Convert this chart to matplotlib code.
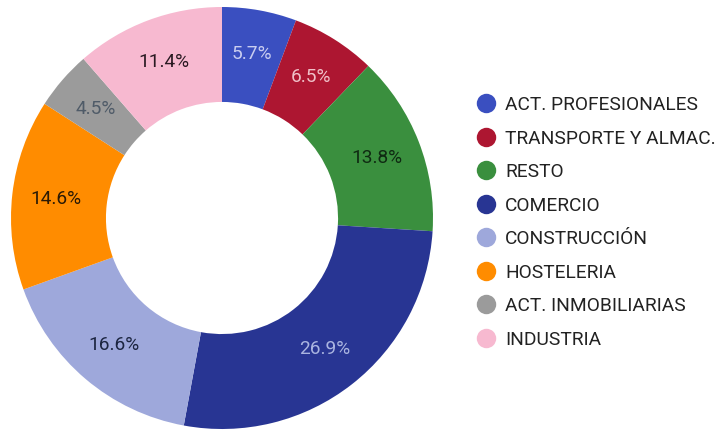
import matplotlib
matplotlib.use("Agg")
import matplotlib.pyplot as plt
from matplotlib.lines import Line2D

plt.rcParams['font.family'] = ['Roboto', 'DejaVu Sans']

categories = ["ACT. PROFESIONALES", "TRANSPORTE Y ALMAC.", "RESTO", "COMERCIO",
              "CONSTRUCCIÓN", "HOSTELERIA", "ACT. INMOBILIARIAS", "INDUSTRIA"]
values = [5.7, 6.5, 13.8, 26.9, 16.6, 14.6, 4.5, 11.4]
colors = ["#3a4fc0", "#ad1631", "#3a8f3e", "#283593",
          "#9ea8db", "#ff8c00", "#9b9b9b", "#f7b9d0"]
label_colors = ["#c9cdf0", "#f0c0c8", "#0f2a12", "#aab4e0",
                "#1c2540", "#2a1a05", "#4f5b68", "#2a1a22"]

fig = plt.figure(figsize=(7.27, 4.30), dpi=100)
W, H = 727, 430
cx, cy, R = 222, 218, 211
ax = fig.add_axes([(cx - R) / W, (H - cy - R) / H, 2 * R / W, 2 * R / H])

wedges, texts, autotexts = ax.pie(
    values, colors=colors, startangle=90, counterclock=False,
    radius=1.0, autopct=lambda p: f"{p:.1f}%", pctdistance=0.79,
    wedgeprops=dict(width=0.45, edgecolor="none", linewidth=0),
    textprops=dict(fontsize=13.8))
for t, c in zip(autotexts, label_colors):
    t.set_color(c)
ax.set_xlim(-1, 1)
ax.set_ylim(-1, 1)
ax.set_aspect("equal")
ax.axis("off")

handles = [Line2D([], [], marker="o", linestyle="none", markersize=14,
                  markerfacecolor=c, markeredgecolor="none") for c in colors]
leg = fig.legend(handles, categories, loc="upper left",
                 bbox_to_anchor=(477 / W, 1 - 96 / H), frameon=False,
                 fontsize=13.8, labelspacing=0.81, handlelength=0.9,
                 handletextpad=0.57, borderaxespad=0, borderpad=0)
for t in leg.get_texts():
    t.set_color("#222222")

fig.savefig("out.png", dpi=100, facecolor="white")
